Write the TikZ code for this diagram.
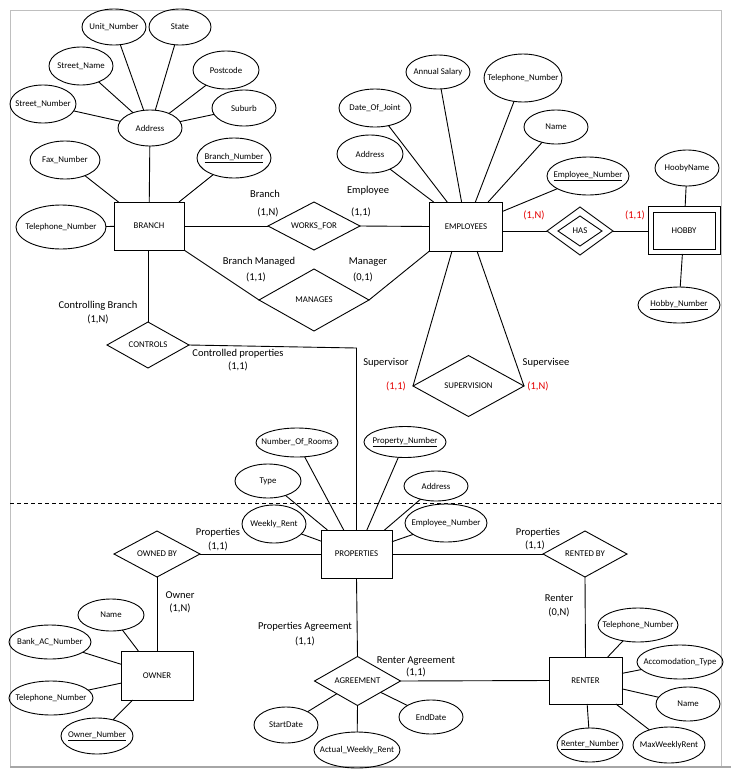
\documentclass[tikz,border=0pt]{standalone}
\usepackage{fontspec}
\setmainfont{Carlito}
\usetikzlibrary{shapes.geometric}
\newcommand\zw[1]{\makebox[0pt]{#1}}
\begin{document}
\begin{tikzpicture}[x=1pt,y=-1pt,
  every node/.style={inner sep=0pt,outer sep=0pt},
  ln/.style={line width=0.9pt},
  attr/.style={ellipse,draw,line width=0.9pt,font=\fontsize{8.8}{10}\selectfont},
  ent/.style={rectangle,draw,line width=0.9pt,font=\fontsize{8.8}{10}\selectfont},
  rel/.style={diamond,draw,line width=0.9pt,font=\fontsize{8.8}{10}\selectfont},
  lab/.style={font=\fontsize{10.5}{12}\selectfont},
  rlab/.style={lab,text=red!90!black}]
\useasboundingbox (0,0) rectangle (731,769);
\fill[white] (0,0) rectangle (731,769);
% frame
\draw[gray!50,line width=1pt] (10,10) rectangle (721,766);
\draw[gray!70,line width=1.5pt] (10,767) -- (731,767);
\draw[line width=0.8pt,dash pattern=on 4pt off 3pt] (10,503) -- (721,503);

% ---------- entities ----------
\node[ent,minimum width=70pt,minimum height=48pt] (branch) at (149,226) {\zw{BRANCH}};
\node[ent,minimum width=73pt,minimum height=49pt] (emp) at (466,226.5) {\zw{EMPLOYEES}};
\node[ent,minimum width=72pt,minimum height=48pt] (hobby) at (684,230) {};
\node[ent,minimum width=62pt,minimum height=37pt] (hobbyin) at (684,230.5) {\zw{HOBBY}};
\node[ent,minimum width=71pt,minimum height=48pt] (prop) at (356.5,554) {\zw{PROPERTIES}};
\node[ent,minimum width=72pt,minimum height=49pt] (owner) at (157,675.5) {\zw{OWNER}};
\node[ent,minimum width=73pt,minimum height=47pt] (renter) at (585.5,680.5) {\zw{RENTER}};

% ---------- relationships ----------
\node[rel,minimum width=92pt,minimum height=48pt] (works) at (314,226) {\zw{WORKS\_FOR}};
\node[rel,minimum width=110pt,minimum height=62pt] (manages) at (314,300) {\zw{MANAGES}};
\node[rel,minimum width=66pt,minimum height=48pt] (has) at (580,231) {};
\node[rel,minimum width=44pt,minimum height=30pt] (hasin) at (580,231) {\zw{HAS}};
\node[rel,minimum width=111pt,minimum height=61pt] (superv) at (468.5,386) {\zw{SUPERVISION}};
\node[rel,minimum width=82pt,minimum height=46pt] (ctrl) at (148,345) {\zw{CONTROLS}};
\node[rel,minimum width=86pt,minimum height=46pt] (ownedby) at (157,554) {\zw{OWNED BY}};
\node[rel,minimum width=84pt,minimum height=46pt] (rentedby) at (585,554) {\zw{RENTED BY}};
\node[rel,minimum width=86pt,minimum height=49pt] (agree) at (357.5,681) {\zw{AGREEMENT}};

% ---------- attributes: branch ----------
\node[attr,minimum width=64pt,minimum height=36pt] (bUnit) at (114,27) {\zw{Unit\_Number}};
\node[attr,minimum width=62pt,minimum height=36pt] (bState) at (180,27) {\zw{State}};
\node[attr,minimum width=64pt,minimum height=38pt] (bStreetName) at (81,66) {\zw{Street\_Name}};
\node[attr,minimum width=66pt,minimum height=38pt] (bPost) at (226,70) {\zw{Postcode}};
\node[attr,minimum width=66pt,minimum height=38pt] (bStreetNum) at (43,104) {\zw{Street\_Number}};
\node[attr,minimum width=64pt,minimum height=36pt] (bSuburb) at (244,108) {\zw{Suburb}};
\node[attr,minimum width=64pt,minimum height=36pt] (bAddr) at (150,128) {\zw{Address}};
\node[attr,minimum width=70pt,minimum height=38pt] (bFax) at (65,160) {\zw{Fax\_Number}};
\node[attr,minimum width=74pt,minimum height=40pt] (bNum) at (234,158) {\zw{\underline{Branch\_Number}}};
\node[attr,minimum width=90pt,minimum height=44pt] (bTel) at (61,227) {\zw{Telephone\_Number}};

% ---------- attributes: employees / hobby ----------
\node[attr,minimum width=64pt,minimum height=34pt] (eSal) at (438,72) {\zw{Annual Salary}};
\node[attr,minimum width=78pt,minimum height=48pt] (eTel) at (523,78) {\zw{Telephone\_Number}};
\node[attr,minimum width=72pt,minimum height=38pt] (eDoj) at (375,108) {\zw{Date\_Of\_Joint}};
\node[attr,minimum width=64pt,minimum height=34pt] (eName) at (556,127) {\zw{Name}};
\node[attr,minimum width=66pt,minimum height=38pt] (eAddr) at (370,154) {\zw{Address}};
\node[attr,minimum width=82pt,minimum height=38pt] (eNum) at (588,176) {\zw{\underline{Employee\_Number}}};
\node[attr,minimum width=64pt,minimum height=36pt] (hName) at (687,168) {\zw{HoobyName}};
\node[attr,minimum width=82pt,minimum height=36pt] (hNum) at (679,305) {\zw{\underline{Hobby\_Number}}};

% ---------- attributes: properties ----------
\node[attr,minimum width=82pt,minimum height=29pt] (pRooms) at (297,442.5) {\zw{Number\_Of\_Rooms}};
\node[attr,minimum width=82pt,minimum height=31pt] (pNum) at (405,442) {\zw{\underline{Property\_Number}}};
\node[attr,minimum width=66pt,minimum height=34pt] (pType) at (268,481) {\zw{Type}};
\node[attr,minimum width=64pt,minimum height=30pt] (pAddr) at (436,486) {\zw{Address}};
\node[attr,minimum width=64pt,minimum height=38pt] (pRent) at (274,524) {\zw{Weekly\_Rent}};
\node[attr,minimum width=82pt,minimum height=38pt] (pEmp) at (446,523) {\zw{Employee\_Number}};

% ---------- attributes: owner ----------
\node[attr,minimum width=66pt,minimum height=32pt] (oName) at (111,615) {\zw{Name}};
\node[attr,minimum width=82pt,minimum height=34pt] (oBank) at (50,642) {\zw{Bank\_AC\_Number}};
\node[attr,minimum width=84pt,minimum height=34pt] (oTel) at (51,698) {\zw{Telephone\_Number}};
\node[attr,minimum width=72pt,minimum height=36pt] (oNum) at (97,736) {\zw{\underline{Owner\_Number}}};

% ---------- attributes: renter ----------
\node[attr,minimum width=80pt,minimum height=34pt] (rTel) at (638,625) {\zw{Telephone\_Number}};
\node[attr,minimum width=86pt,minimum height=34pt] (rAcc) at (680,662) {\zw{Accomodation\_Type}};
\node[attr,minimum width=64pt,minimum height=34pt] (rName) at (688,704) {\zw{Name}};
\node[attr,minimum width=66pt,minimum height=34pt] (rNum) at (590,745) {\zw{\underline{Renter\_Number}}};
\node[attr,minimum width=72pt,minimum height=36pt] (rMax) at (669,745) {\zw{MaxWeeklyRent}};

% ---------- attributes: agreement ----------
\node[attr,minimum width=64pt,minimum height=36pt] (aStart) at (286,725) {\zw{StartDate}};
\node[attr,minimum width=86pt,minimum height=36pt] (aRent) at (357,750) {\zw{Actual\_Weekly\_Rent}};
\node[attr,minimum width=64pt,minimum height=34pt] (aEnd) at (431,717) {\zw{EndDate}};

% ---------- attribute connectors ----------
\foreach \a in {bUnit,bState,bStreetName,bPost,bStreetNum,bSuburb}
  \draw[ln] (\a) -- (bAddr);
\foreach \a in {bAddr,bFax,bNum,bTel}
  \draw[ln] (\a) -- (branch);
\foreach \a in {eSal,eTel,eDoj,eName,eAddr,eNum}
  \draw[ln] (\a) -- (emp);
\draw[ln] (hName) -- (hobby);
\draw[ln] (hNum) -- (hobby);
\foreach \a in {pRooms,pNum,pType,pAddr,pRent,pEmp}
  \draw[ln] (\a) -- (prop);
\foreach \a in {oName,oBank,oTel,oNum}
  \draw[ln] (\a) -- (owner);
\foreach \a in {rTel,rAcc,rName,rNum,rMax}
  \draw[ln] (\a) -- (renter);
\draw[ln] (aStart) -- (agree);
\draw[ln] (aRent) -- (agree.south);
\draw[ln] (aEnd) -- (agree);

% ---------- relationship connectors ----------
\draw[ln] (branch.east) -- (works.west);
\draw[ln] (works.east) -- (emp.west);
\draw[ln] (branch.south east) -- (manages.west);
\draw[ln] (manages.east) -- (emp.south west);
\draw[ln] (has.west) -- (has.west -| emp.east);
\draw[ln] (has.east) -- (has.east -| hobby.west);
\draw[ln] ([xshift=-14pt]emp.south) -- (superv.west);
\draw[ln] ([xshift=11pt]emp.south) -- (superv.east);
\draw[ln] (branch.south -| ctrl.north) -- (ctrl.north);
\coordinate (bend) at (356.5,348);
\draw[ln] (ctrl.east) -- (bend) -- (prop.north);
\draw[ln] (ownedby.east) -- (prop.west);
\draw[ln] (ownedby.south) -- (owner.north);
\draw[ln] (prop.east) -- (rentedby.west);
\draw[ln] (rentedby.south) -- (renter.north);
\draw[ln] (prop.south) -- (agree.north);
\draw[ln] (agree.east) -- (renter.west);

% ---------- labels ----------
\node[lab] (l1) at (265,194) {Branch};
\node[lab] (l2) at (268,212) {(1,N)};
\node[lab] (l3) at (368,191) {Employee};
\node[lab] (l4) at (361,212) {(1,1)};
\node[lab] (l5) at (259,262) {Branch Managed};
\node[lab] (l6) at (256,277) {(1,1)};
\node[lab] (l7) at (368,262) {Manager};
\node[lab] (l8) at (363,277) {(0,1)};
\node[lab] (l9) at (98,306) {Controlling Branch};
\node[lab] (l10) at (98,319) {(1,N)};
\node[lab] (l11) at (238,354) {Controlled properties};
\node[lab] (l12) at (238,366) {(1,1)};
\node[lab] (l13) at (386,363) {Supervisor};
\node[rlab] (l14) at (396,386) {(1,1)};
\node[lab] (l15) at (546,363) {Supervisee};
\node[rlab] (l16) at (538,386) {(1,N)};
\node[rlab] (l17) at (534,215) {(1,N)};
\node[rlab] (l18) at (635,215) {(1,1)};
\node[lab] (l19) at (218,533) {Properties};
\node[lab] (l20) at (218,546) {(1,1)};
\node[lab] (l21) at (180,595) {Owner};
\node[lab] (l22) at (180,608) {(1,N)};
\node[lab] (l23) at (538,533) {Properties};
\node[lab] (l24) at (535,545) {(1,1)};
\node[lab] (l25) at (559,598) {Renter};
\node[lab] (l26) at (559,612) {(0,N)};
\node[lab] (l27) at (305,627) {Properties Agreement};
\node[lab] (l28) at (305,641) {(1,1)};
\node[lab] (l29) at (416,661) {Renter Agreement};
\node[lab] (l30) at (416,672) {(1,1)};
\end{tikzpicture}
\end{document}
